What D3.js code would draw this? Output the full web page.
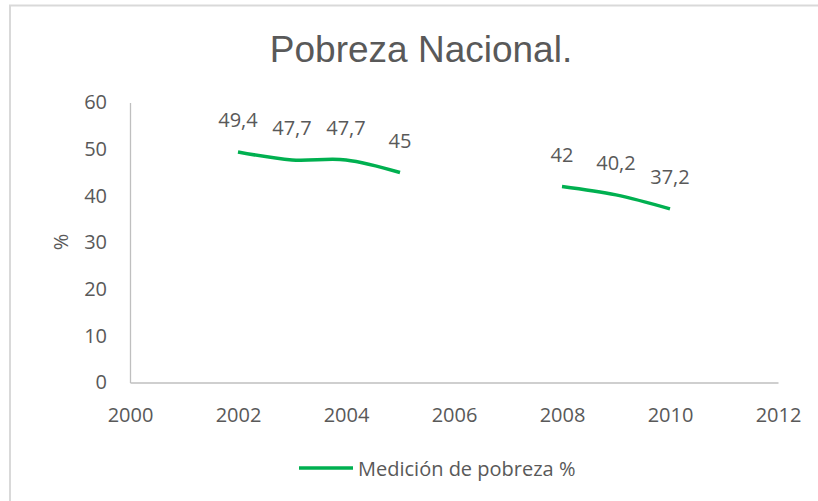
<!DOCTYPE html>
<html>
<head>
<meta charset="utf-8">
<script src="https://cdn.jsdelivr.net/npm/d3@7"></script>
<style>
  body { margin: 0; background: #fff; }
  text { fill: #595959; }
</style>
</head>
<body>
<div id="chart"></div>
<script>
const years = [2002, 2003, 2004, 2005, 2006, 2007, 2008, 2009, 2010];
const pobreza = [49.4, 47.7, 47.7, 45, null, null, 42, 40.2, 37.2];
const xTicks = [2000, 2002, 2004, 2006, 2008, 2010, 2012];
const yTicks = [0, 10, 20, 30, 40, 50, 60];
const seriesName = 'Medición de pobreza %';

const data = years.map((y, i) => ({ year: y, value: pobreza[i] }));

const svg = d3.select('#chart')
  .append('svg')
  .attr('width', 818)
  .attr('height', 501)

// outer frame
svg.append('path')
  .attr('d', 'M10,501 V5.5 H818')
  .attr('fill', 'none')
  .attr('stroke', '#d9d9d9')
  .attr('stroke-width', 2)

const x = d3.scaleLinear().domain([2000, 2012]).range([130, 778]);
const y = d3.scaleLinear().domain([0, 60]).range([382.5, 102.5]);

svg.append('text')
  .attr('x', 421)
  .attr('y', 62)
  .attr('text-anchor', 'middle')
  .style('font-family', 'Liberation Sans, Arial, sans-serif')
  .style('font-size', '37px')
  .text('Pobreza Nacional.')

const font = 'Open Sans, sans-serif';
const fs = '20px';

const yAxis = svg.append('g')
  .attr('transform', 'translate(130,0)')
  .call(d3.axisLeft(y).tickValues(yTicks).tickSize(0).tickPadding(23))
yAxis.select('.domain').attr('stroke', '#bfbfbf').attr('stroke-width', 1.3)
yAxis.selectAll('text').style('font-family', font).style('font-size', fs).attr('fill', '#595959')

const xAxis = svg.append('g')
  .attr('transform', 'translate(0,382.5)')
  .call(d3.axisBottom(x).tickValues(xTicks).tickFormat(d3.format('d')).tickSize(0).tickPadding(25))
xAxis.select('.domain').attr('stroke', '#bfbfbf').attr('stroke-width', 1.3)
xAxis.selectAll('text').style('font-family', font).style('font-size', fs).attr('fill', '#595959')

svg.append('text')
  .attr('transform', 'translate(68,242) rotate(-90)')
  .attr('text-anchor', 'middle')
  .style('font-family', font)
  .style('font-size', fs)
  .text('%')

const line = d3.line()
  .defined(d => d.value != null)
  .x(d => x(d.year))
  .y(d => y(d.value))
  .curve(d3.curveCatmullRom.alpha(0.5))

svg.append('path')
  .datum(data)
  .attr('fill', 'none')
  .attr('stroke', '#00b050')
  .attr('stroke-width', 3.5)
  .attr('d', line)

const fmt = v => String(v).replace('.', ',');
svg.selectAll('.lbl')
  .data(data.filter(d => d.value != null))
  .enter()
  .append('text')
  .attr('class', 'lbl')
  .attr('x', d => x(d.year))
  .attr('y', d => y(d.value) - 25)
  .attr('text-anchor', 'middle')
  .style('font-family', font)
  .style('font-size', fs)
  .text(d => fmt(d.value))

// legend
const lg = svg.append('g').attr('transform', 'translate(299,468)');
lg.append('line')
  .attr('x1', 0).attr('x2', 54)
  .attr('stroke', '#00b050')
  .attr('stroke-width', 3.5)
lg.append('text')
  .attr('x', 59)
  .attr('y', 8)
  .style('font-family', font)
  .style('font-size', fs)
  .text(seriesName)
</script>
</body>
</html>
